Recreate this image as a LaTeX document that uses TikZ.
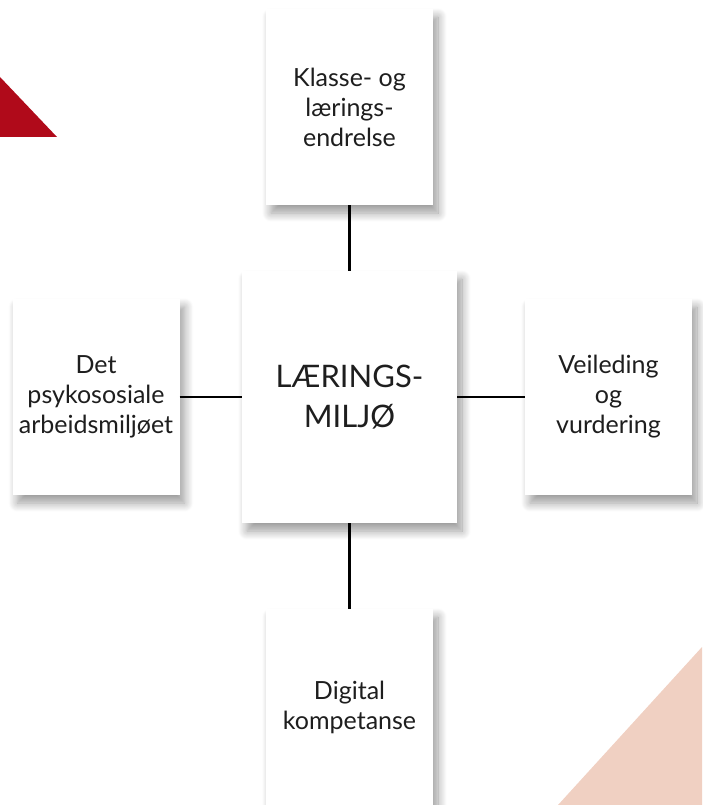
\documentclass[tikz,border=0pt]{standalone}
\usepackage{fontspec}
\setmainfont{Lato}
\usetikzlibrary{shadows.blur}
\definecolor{cornerred}{HTML}{B00A1A}
\definecolor{cornerpink}{HTML}{F0D0C2}
\definecolor{inktext}{HTML}{1E1E1E}
\tikzset{
  card/.style = {fill = white, align = center, inner sep = 0pt,
    text = inktext,
    minimum width = 167pt, minimum height = 196pt,
    font = \fontsize{25}{30}\selectfont,
    blur shadow = {shadow xshift = 5pt, shadow yshift = -8pt,
      shadow blur radius = 9pt, shadow blur steps = 12,
      shadow opacity = 40}},
  link/.style = {line width = 2.4pt}
}
\begin{document}
\begin{tikzpicture}[x = 1pt, y = -1pt]
    \useasboundingbox (0,0) rectangle (702,805);
    \fill[cornerred] (0,77) -- (57,137) -- (0,137) -- cycle;
    \fill[cornerpink] (702,647) -- (702,805) -- (558,805) -- cycle;
    \node[card] (klasse) at (349.5,107) {Klasse- og\\lærings-\\endrelse};
    \node[card] (psyko) at (96,397) {Det\\psykososiale\\arbeidsmiljøet};
    \node[card] (veiled) at (608.5,397) {Veileding\\og\\vurdering};
    \node[card] (digital) at (349.5,707) {Digital\\kompetanse};
    \node[card, minimum width = 215pt, minimum height = 252pt,
      font = \fontsize{31}{40}\selectfont] (miljo) at (349.5,397) {LÆRINGS-\\MILJØ};
    \draw[link] (klasse) -- (miljo);
    \draw[link] (psyko) -- (miljo);
    \draw[link] (miljo) -- (veiled);
    \draw[link] (miljo) -- (digital);
\end{tikzpicture}
\end{document}
